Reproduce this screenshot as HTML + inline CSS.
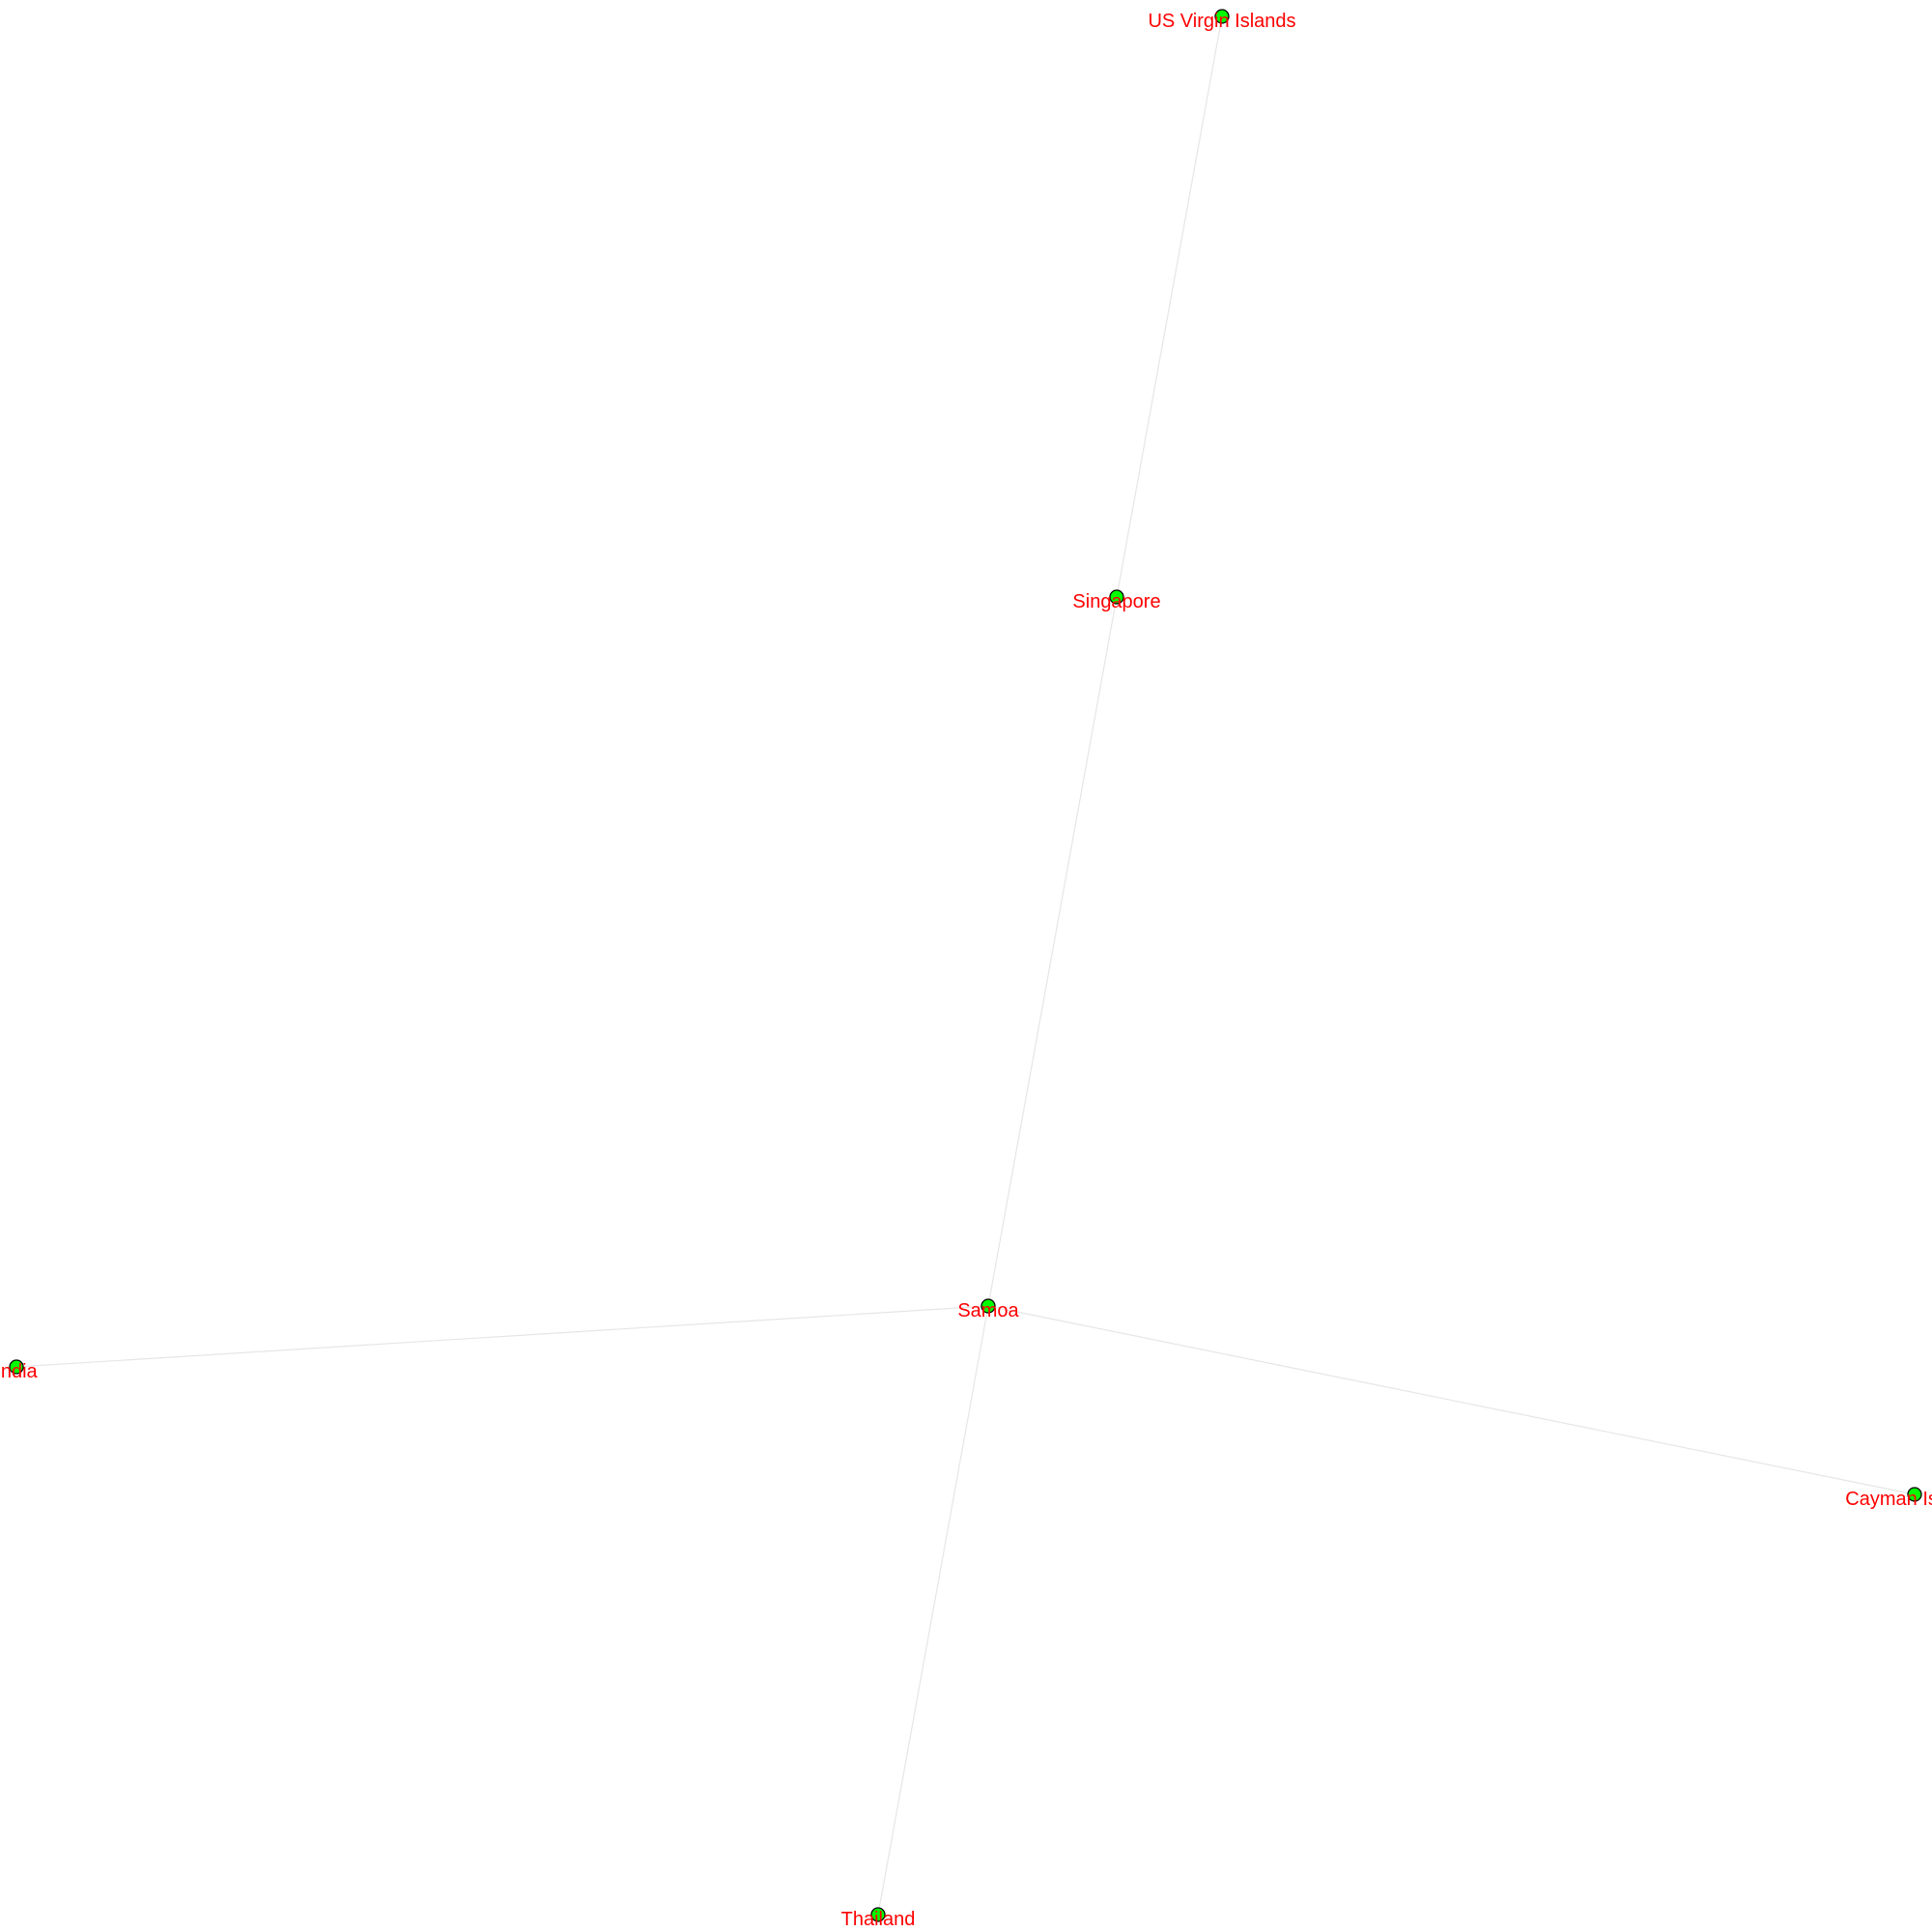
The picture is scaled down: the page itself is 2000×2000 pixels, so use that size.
<!DOCTYPE html>
<html><head><meta charset="utf-8"><style>
html,body{margin:0;padding:0;background:#fff;}
svg{display:block;}
text{font-family:"Liberation Sans",Arial,sans-serif;font-size:20px;fill:#ff0000;text-anchor:middle;}
</style></head><body>
<svg id="chart" width="2000" height="2000" viewBox="0 0 2000 2000">
<g id="edges"></g>
<g id="nodes"></g>
<g id="labels"></g>
</svg>
<script>
const nodeNames = ["US Virgin Islands","Singapore","Samoa","India","Cayman Islands","Thailand"];
const nodeX = [1265,1156,1023,17,1982,909];
const nodeY = [17,618,1352,1415,1547,1982];
const edgeFrom = [0,1,2,2,2];
const edgeTo = [1,2,3,4,5];
const NS="http://www.w3.org/2000/svg";
const eg=document.getElementById('edges'),ng=document.getElementById('nodes'),lg=document.getElementById('labels');
for(let i=0;i<edgeFrom.length;i++){
  const a=edgeFrom[i],b=edgeTo[i];
  const l=document.createElementNS(NS,'line');
  l.setAttribute('x1',nodeX[a]);l.setAttribute('y1',nodeY[a]);
  l.setAttribute('x2',nodeX[b]);l.setAttribute('y2',nodeY[b]);
  l.setAttribute('stroke','#e6e6e6');l.setAttribute('stroke-width','1.2');
  
  
  eg.appendChild(l);
}
for(let i=0;i<nodeNames.length;i++){
  const c=document.createElementNS(NS,'circle');
  c.setAttribute('cx',nodeX[i]);c.setAttribute('cy',nodeY[i]);c.setAttribute('r',7);
  c.setAttribute('fill','#00ff00');c.setAttribute('stroke','#000');c.setAttribute('stroke-width','1.3');
  
  
  ng.appendChild(c);
  const t=document.createElementNS(NS,'text');
  t.setAttribute('x',nodeX[i]);t.setAttribute('y',nodeY[i]+11);
  t.textContent=nodeNames[i];
  
  
  lg.appendChild(t);
}
</script>
</body></html>
